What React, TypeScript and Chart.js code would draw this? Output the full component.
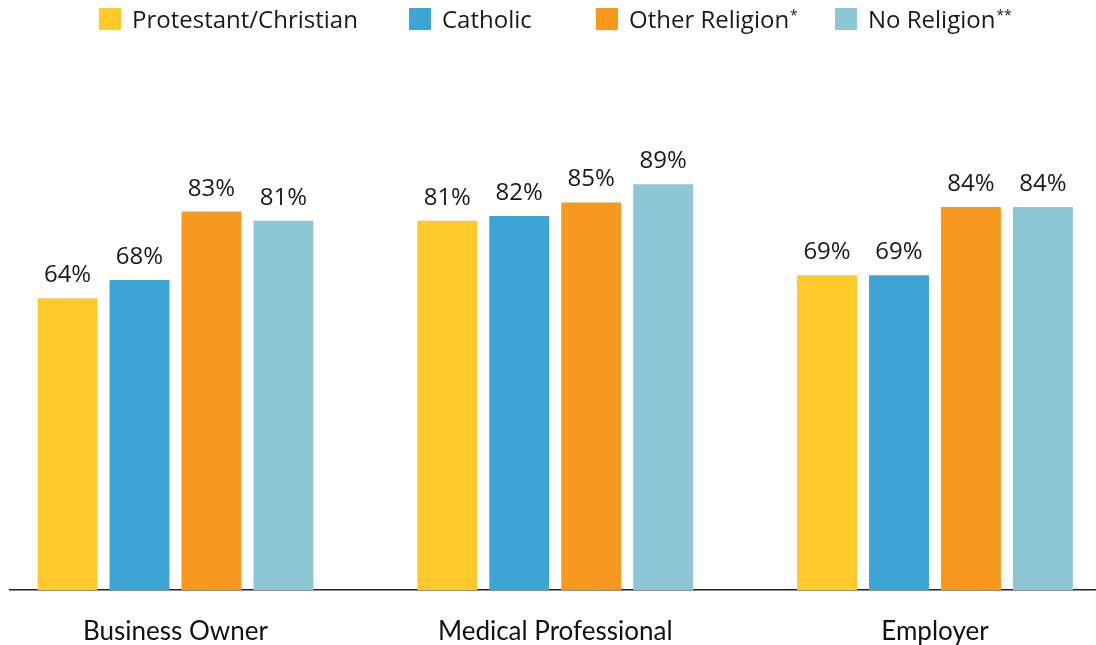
import React, { useEffect, useRef } from "react";
import { Chart, registerables } from "chart.js";

Chart.register(...registerables);

const categories = ["Business Owner", "Medical Professional", "Employer"];
const seriesNames = ["Protestant/Christian", "Catholic", "Other Religion", "No Religion"];
const seriesNotes = ["", "", "*", "**"];
const seriesColors = ["#FFC92A", "#3DA5D5", "#F8991F", "#8DC7D5"];
const protestant = [64, 81, 69];
const catholic = [68, 82, 69];
const otherReligion = [83, 85, 84];
const noReligion = [81, 89, 84];
const seriesValues = [protestant, catholic, otherReligion, noReligion];

const legendX = [99, 409, 596, 835];

const valueLabels = {
  id: "valueLabels",
  afterDatasetsDraw(chart: any) {
    const ctx = chart.ctx;
    ctx.save();
    ctx.font = "24px 'Open Sans'";
    ctx.fillStyle = "#1a1a1a";
    ctx.textAlign = "center";
    ctx.textBaseline = "alphabetic";
    chart.data.datasets.forEach((ds: any, i: number) => {
      const meta = chart.getDatasetMeta(i);
      meta.data.forEach((el: any, j: number) => {
        ctx.fillText(ds.data[j].y + "%", el.x, el.y - 16);
      });
    });
    ctx.restore();
  },
};

const customLegend = {
  id: "customLegend",
  afterDraw(chart: any) {
    const ctx = chart.ctx;
    ctx.save();
    seriesNames.forEach((name, i) => {
      const x = legendX[i];
      ctx.fillStyle = seriesColors[i];
      ctx.fillRect(x, 8, 22, 22);
      ctx.fillStyle = "#1a1a1a";
      ctx.font = "24px 'Open Sans'";
      ctx.textAlign = "left";
      ctx.textBaseline = "alphabetic";
      ctx.fillText(name, x + 33, 28);
      const w = ctx.measureText(name).width;
      if (seriesNotes[i]) {
        ctx.font = "14px 'Open Sans'";
        ctx.fillText(seriesNotes[i], x + 34 + w, 20);
      }
    });
    ctx.restore();
  },
};

export default function App() {
  const ref = useRef<HTMLCanvasElement>(null);
  useEffect(() => {
    if (!ref.current) return;
    const chart = new Chart(ref.current, {
      type: "bar",
      data: {
        datasets: seriesNames.map((name, i) => ({
          label: name,
          data: seriesValues[i].map((v, j) => ({ x: j, y: v })),
          backgroundColor: seriesColors[i],
          borderWidth: 0,
          barPercentage: 0.833,
          categoryPercentage: 0.758,
        })),
      },
      options: {
        animation: false,
        responsive: true,
        maintainAspectRatio: false,
        layout: { padding: { top: 134, left: 10, right: 0, bottom: 0 } },
        plugins: { legend: { display: false }, tooltip: { enabled: false } },
        scales: {
          x: {
            type: "linear",
            offset: false,
            min: -0.4358,
            max: 2.424,
            afterBuildTicks: (scale: any) => {
              scale.ticks = categories.map((_, i) => ({ value: i }));
            },
            afterFit: (scale: any) => {
              scale.height = 55;
            },
            grid: { display: true, offset: false, color: "transparent", drawTicks: false },
            border: { display: true, color: "#222", width: 1.5 },
            ticks: {
              padding: 26,
              autoSkip: false,
              maxRotation: 0,
              color: "#111",
              font: { family: "Lato", size: 26 },
              callback: (v: any) => categories[v] ?? "",
            },
          },
          y: {
            display: false,
            min: 0,
            max: 100,
          },
        },
      },
      plugins: [valueLabels, customLegend],
    });
    return () => chart.destroy();
  }, []);
  return (
    <div style={{ position: "fixed", left: 0, top: 0, width: 1096, height: 645, background: "#fff" }}>
      <canvas ref={ref} />
    </div>
  );
}
